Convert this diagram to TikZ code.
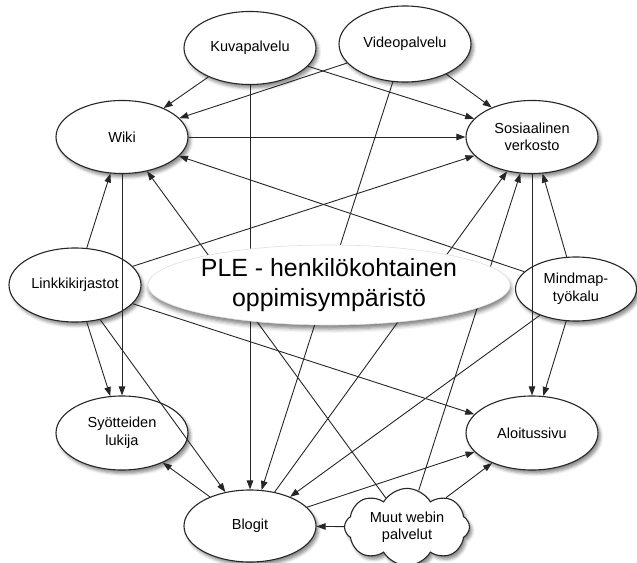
\documentclass[tikz,border=0pt]{standalone}
\usepackage{fontspec}
\setmainfont{Liberation Sans}
\usetikzlibrary{arrows.meta,shapes.geometric,shapes.symbols,shadows.blur}

\begin{document}
\begin{tikzpicture}[x=1bp,y=-1bp,
  softshadow/.style={blur shadow={shadow xshift=2.5bp, shadow yshift=-3.5bp,
      shadow blur radius=3bp, shadow opacity=45}},
  bubble/.style={ellipse, draw=black!85, line width=1.1bp, fill=white,
      inner sep=0pt, minimum width=132bp, minimum height=73bp, align=center,
      font=\fontsize{14.6}{17.6}\selectfont, softshadow},
  puffy/.style={cloud, cloud puffs=8, cloud puff arc=120, aspect=1.8,
      draw=black!85, line width=1.1bp, fill=white, inner sep=0pt,
      minimum width=125bp, minimum height=68bp, align=center,
      font=\fontsize{14.6}{17.6}\selectfont, softshadow},
  hub/.style={ellipse, draw=black!12, line width=0.6bp, fill=white,
      inner sep=0pt, minimum width=338bp, minimum height=80bp, align=center,
      font=\fontsize{25}{30}\selectfont,
      blur shadow={shadow xshift=1bp, shadow yshift=-4bp,
      shadow blur radius=4bp, shadow opacity=50}},
  link/.style={draw=black!85, line width=0.9bp,
      -{Triangle[length=9bp,width=6.5bp]}},
]
\useasboundingbox (0,0) rectangle (637,563);

% services around the hub
\node[bubble] (kuva)   at (250,48)  {Kuvapalvelu};
\node[bubble, minimum height=76bp] (video) at (405,44) {Videopalvelu};
\node[bubble] (wiki)   at (122,137) {Wiki};
\node[bubble] (sos)    at (532,137) {Sosiaalinen\\verkosto};
\node[bubble, minimum height=74bp] (linkki) at (75,285) {Linkkikirjastot};
\node[bubble, minimum width=121bp, minimum height=64bp] (mind) at (576,289) {Mindmap-\\työkalu};
\node[bubble, minimum height=74bp] (syot)  at (122,433) {Syötteiden\\lukija};
\node[bubble, minimum height=74bp] (aloitus) at (532,433) {Aloitussivu};
\node[bubble, minimum height=72bp] (blogit) at (250,526) {Blogit};
\node[puffy]  (muut)   at (407,527) {Muut webin\\palvelut};

% connections
\draw[link] (kuva) -- (wiki);
\draw[link] (kuva) -- (sos);
\draw[link] (kuva) -- (blogit);
\draw[link] (video) -- (wiki);
\draw[link] (video) -- (sos);
\draw[link] (video) -- (blogit);
\draw[link] (wiki) -- (sos);
\draw[link] (wiki) -- (syot);
\draw[link] (linkki) -- (wiki);
\draw[link] (linkki) -- (sos);
\draw[link] (linkki) -- (syot);
\draw[link] (linkki) -- (aloitus);
\draw[link] (linkki) -- (blogit);
\draw[link] (mind) -- (wiki);
\draw[link] (mind) -- (sos);
\draw[link] (mind) -- (aloitus);
\draw[link] (mind) -- (blogit);
\draw[link] (sos) -- (aloitus);
\draw[link] (blogit) -- (syot);
\draw[link] (blogit) -- (aloitus);
\draw[link] (blogit) -- (sos);
\draw[link] (muut) -- (blogit);
\draw[link] (muut) -- (aloitus);
\draw[link] (muut) -- (sos);
\draw[link] (muut) -- (wiki);

% central concept, laid over the crossing lines
\node[hub] (ple) at (329,285) {PLE - henkilökohtainen\\oppimisympäristö};
\end{tikzpicture}
\end{document}
